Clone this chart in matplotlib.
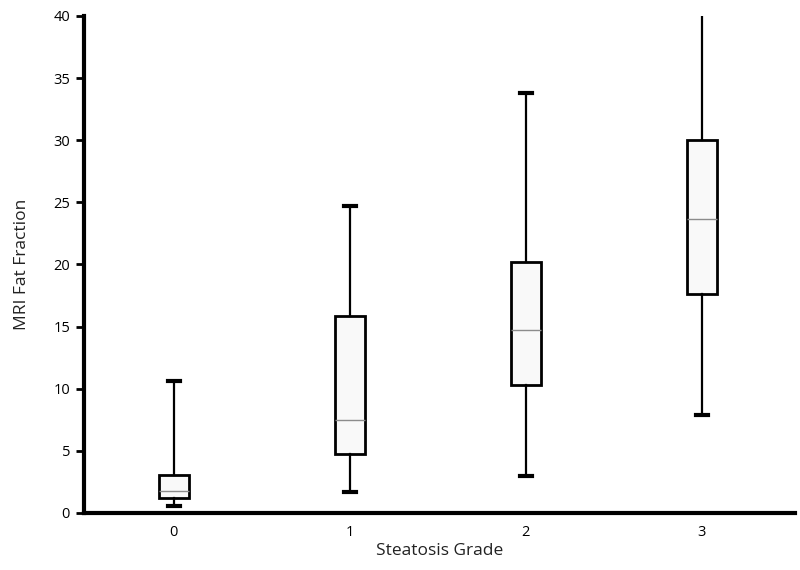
import matplotlib.pyplot as plt

# data (MRI fat fraction by steatosis grade)
grades = [0, 1, 2, 3]
whisker_low = [0.6, 1.7, 3.0, 7.9]
q1 = [1.2, 4.75, 10.3, 17.65]
median = [1.8, 7.5, 14.7, 23.7]
q3 = [3.05, 15.85, 20.2, 30.05]
whisker_high = [10.6, 24.7, 33.8, 45.0]

y_ticks = [0, 5, 10, 15, 20, 25, 30, 35, 40]

plt.rcParams['font.family'] = ['Open Sans', 'DejaVu Sans']

fig = plt.figure(figsize=(8, 5.7), dpi=100)
ax = fig.add_axes([0.105, 0.1, 0.889, 0.872])

stats = []
for i in range(len(grades)):
    stats.append({'whislo': whisker_low[i], 'q1': q1[i], 'med': median[i],
                  'q3': q3[i], 'whishi': whisker_high[i], 'fliers': []})

ax.bxp(stats, positions=grades, widths=0.17, patch_artist=True,
       showfliers=False,
       boxprops=dict(facecolor='#f9f9f9', edgecolor='black', linewidth=2),
       medianprops=dict(color='#8c8c8c', linewidth=1),
       whiskerprops=dict(color='black', linewidth=1.6),
       capprops=dict(color='black', linewidth=3),
       capwidths=0.07)

# 上の端は40で切れている
ax.set_ylim(0, 40)
ax.set_xlim(-0.51, 3.53)
ax.set_yticks(y_ticks)
ax.set_xticks(grades)
ax.set_xticklabels([str(g) for g in grades])

for s in ['top', 'right']:
    ax.spines[s].set_visible(False)
for s in ['left', 'bottom']:
    ax.spines[s].set_linewidth(3)
    ax.spines[s].set_color('black')

ax.tick_params(axis='y', length=6, width=2, labelsize=10.5, pad=4)
ax.tick_params(axis='x', length=0, labelsize=10.5, pad=9)

ax.set_xlabel('Steatosis Grade', fontsize=12.5, color='#222222', labelpad=2)
ax.set_ylabel('MRI Fat Fraction', fontsize=12.5, color='#222222', labelpad=17)

fig.savefig('out.png', dpi=100)
